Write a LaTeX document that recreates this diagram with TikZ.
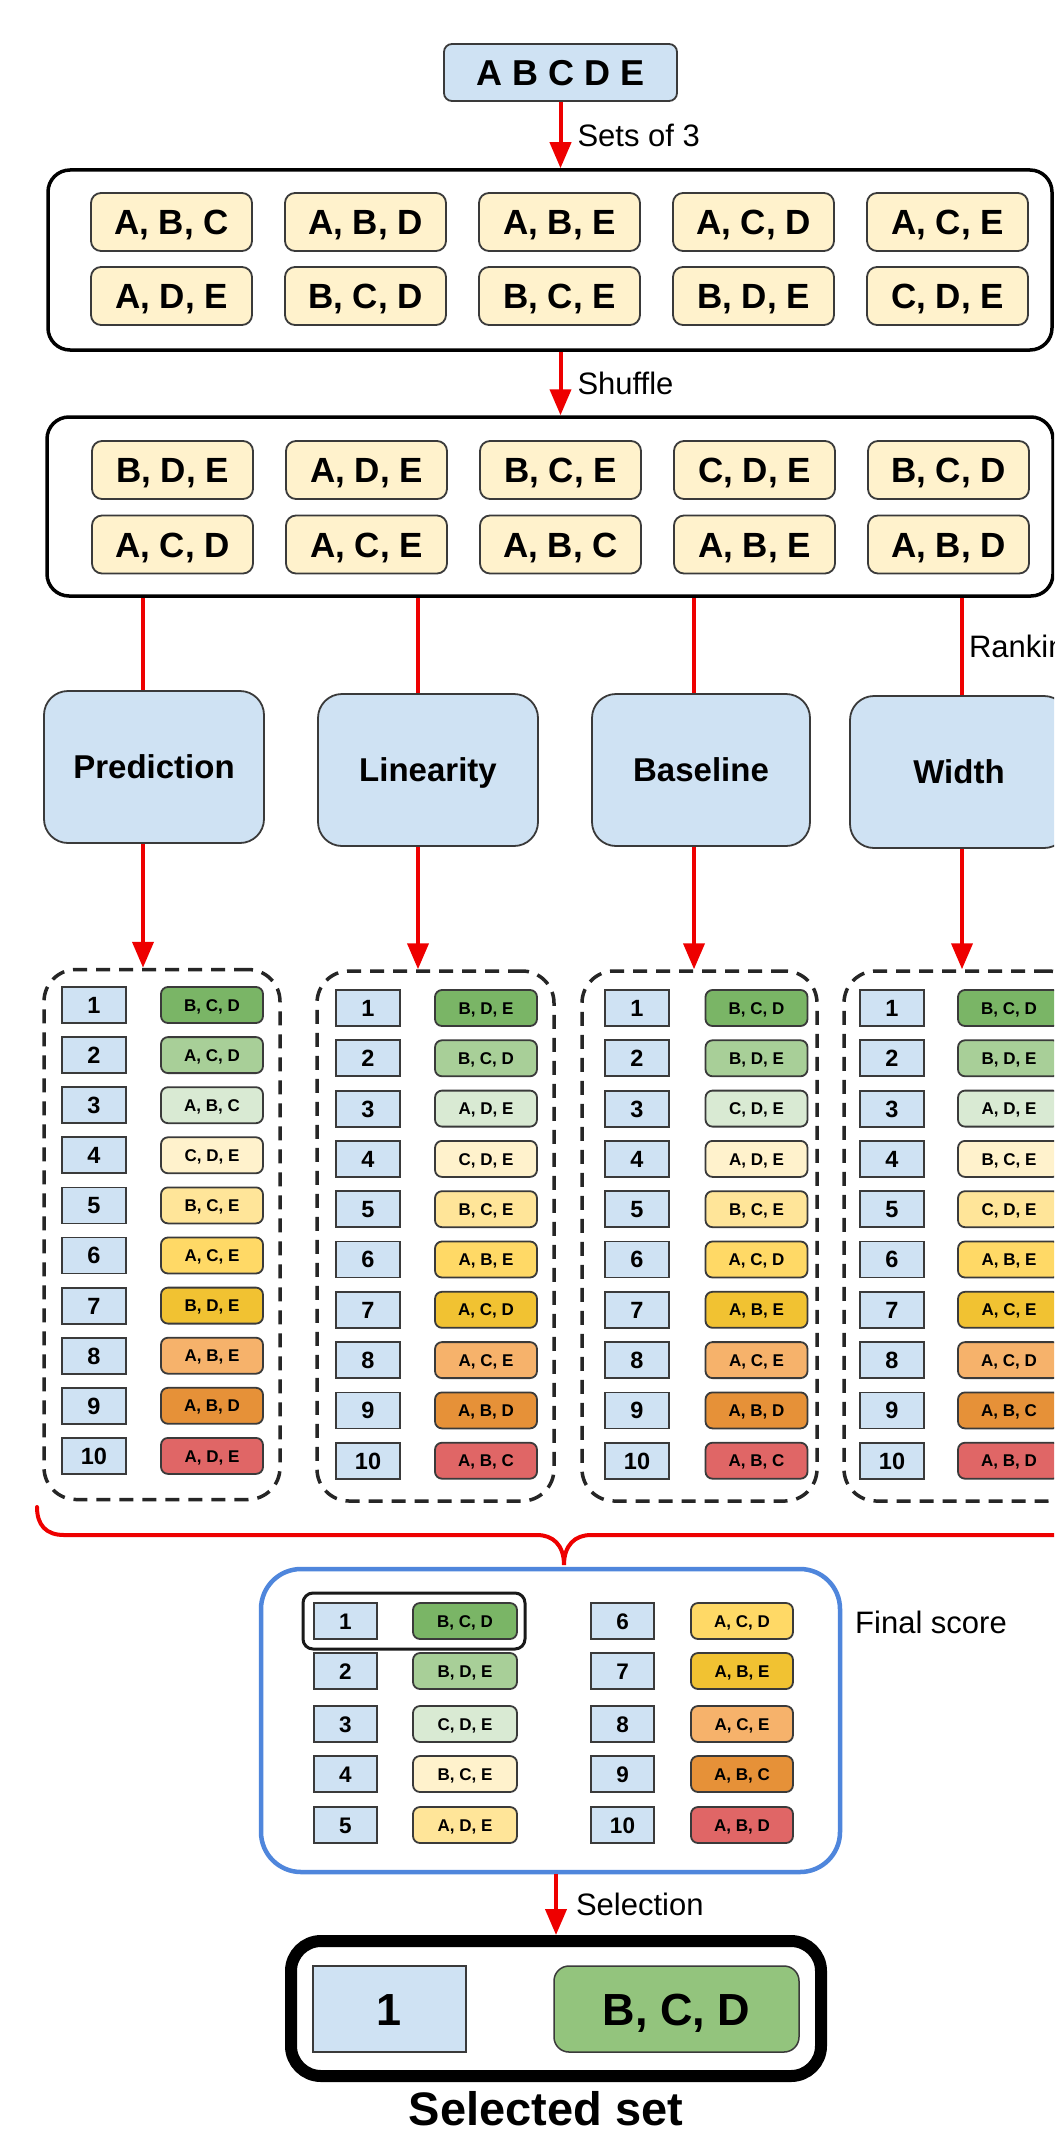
\documentclass[tikz,border=0pt]{standalone}
\usepackage{fontspec}
\setmainfont{Liberation Sans}
\usetikzlibrary{arrows.meta}
\definecolor{lblue}{HTML}{CFE2F3}
\definecolor{lyel}{HTML}{FFF2CC}
\definecolor{redc}{HTML}{EE0000}
\definecolor{bluec}{HTML}{4F86DC}
\definecolor{bord}{HTML}{3A3A3A}
\definecolor{rank1}{HTML}{7AB566}
\definecolor{rank2}{HTML}{A8CF98}
\definecolor{rank3}{HTML}{D9EAD3}
\definecolor{rank4}{HTML}{FFF2CC}
\definecolor{rank5}{HTML}{FFE599}
\definecolor{rank6}{HTML}{FFD966}
\definecolor{rank7}{HTML}{F1C232}
\definecolor{rank8}{HTML}{F6B26B}
\definecolor{rank9}{HTML}{E69138}
\definecolor{rank10}{HTML}{E06666}
\definecolor{selgreen}{HTML}{93C47D}
\newcommand{\myfs}[1]{\fontsize{#1}{#1}\selectfont}
\newcommand{\rankcolumn}[6]{%
  \foreach \s [count=\i] in {#6} {
    \node[numbox] (#1n\i) at (#2, {#4+(\i-1)*#5}) {\i};
    \node[rankset, fill=rank\i] (#1s\i) at (#3, {#4+(\i-1)*#5}) {\s};
  }%
}
\tikzset{
  redline/.style={draw=redc, line width=4pt},
  redarrow/.style={redline, -{Triangle[length=26pt,width=21pt]}},
  outerbox/.style={draw=black, line width=3.5pt, rounded corners=22pt, inner sep=0pt},
  topset/.style={draw=bord, line width=1.8pt, fill=lyel, rounded corners=10pt, minimum width=161pt, minimum height=58pt, inner sep=0pt, text height=25pt, text depth=0pt, font=\bfseries\myfs{35}},
  method/.style={draw=bord, line width=1.8pt, fill=lblue, rounded corners=24pt, minimum width=220pt, minimum height=152pt, inner sep=0pt, text height=23.6pt, text depth=0pt, font=\bfseries\myfs{33}},
  dashbox/.style={draw=black!85, line width=3.5pt, dash pattern=on 14pt off 9pt, rounded corners=32pt, minimum width=236pt, minimum height=530pt, inner sep=0pt},
  numbox/.style={draw=bord, line width=1.8pt, fill=lblue, minimum width=64pt, minimum height=36pt, inner sep=0pt, text height=16.8pt, text depth=0pt, font=\bfseries\myfs{23.5}},
  rankset/.style={draw=bord, line width=1.8pt, rounded corners=7pt, minimum width=102pt, minimum height=36pt, inner sep=0pt, text height=12.2pt, text depth=0pt, font=\bfseries\myfs{17}},
  lbl/.style={font=\myfs{31}, inner sep=0pt, anchor=west, text height=22.2pt, text depth=0pt},
}
\begin{document}
\begin{tikzpicture}[x=1pt,y=-1pt]
\useasboundingbox (0,0) rectangle (1054,2132);
\clip (0,0) rectangle (1054,2132);
\fill[white] (0,0) rectangle (1054,2132);

% top
\node[draw=bord, line width=1.8pt, fill=lblue, rounded corners=8pt, minimum width=233pt, minimum height=57pt, inner sep=0pt, text height=25.8pt, text depth=0pt, font=\bfseries\myfs{36}] (abcde) at (560.5,72.5) {A B C D E};

\node[outerbox, minimum width=1004pt, minimum height=180pt] (outer1) at (550,260) {};
\foreach \t [count=\k] in {{A, B, C},{A, B, D},{A, B, E},{A, C, D},{A, C, E}} {
  \pgfmathsetmacro{\xx}{171.5+(\k-1)*194}
  \node[topset] (ta\k) at (\xx,222) {\t};
}
\foreach \t [count=\k] in {{A, D, E},{B, C, D},{B, C, E},{B, D, E},{C, D, E}} {
  \pgfmathsetmacro{\xx}{171.5+(\k-1)*194}
  \node[topset] (tb\k) at (\xx,296) {\t};
}
\draw[redarrow] (abcde.south) -- node[lbl, xshift=15pt] {Sets of 3} (abcde.south |- outer1.north);

\node[outerbox, minimum width=1006pt, minimum height=179pt] (outer2) at (550,506.5) {};
\foreach \t [count=\k] in {{B, D, E},{A, D, E},{B, C, E},{C, D, E},{B, C, D}} {
  \pgfmathsetmacro{\xx}{172.5+(\k-1)*194}
  \node[topset] (sa\k) at (\xx,470) {\t};
}
\foreach \t [count=\k] in {{A, C, D},{A, C, E},{A, B, C},{A, B, E},{A, B, D}} {
  \pgfmathsetmacro{\xx}{172.5+(\k-1)*194}
  \node[topset] (sb\k) at (\xx,544.5) {\t};
}
\draw[redarrow] (outer1.south -| abcde.south) -- node[lbl, xshift=15pt] {Shuffle} (outer2.north -| abcde.south);

% methods
\node[method] (pred) at (154,767) {Prediction};
\node[method] (lin) at (428,770) {Linearity};
\node[method, minimum width=218pt] (base) at (701,770) {Baseline};
\node[method, minimum width=218pt] (wid) at (959,772) {Width};

\coordinate (xP) at (143,0);
\coordinate (xL) at (418,0);
\coordinate (xB) at (694,0);
\coordinate (xW) at (962,0);

\draw[redline] (outer2.south -| xP) -- (pred.north -| xP);
\draw[redline] (outer2.south -| xL) -- (lin.north -| xL);
\draw[redline] (outer2.south -| xB) -- (base.north -| xB);
\draw[redline] (outer2.south -| xW) -- node[lbl, xshift=5pt] {Ranking} (wid.north -| xW);

% dashed ranking boxes
\node[dashbox] (pdash) at (162,1234.5) {};
\node[dashbox, minimum width=237pt] (ldash) at (435.5,1236) {};
\node[dashbox, minimum width=235pt] (bdash) at (699.5,1236) {};
\node[dashbox] (wdash) at (962,1236) {};

\draw[redarrow] (pred.south -| xP) -- (pdash.north -| xP);
\draw[redarrow] (lin.south -| xL) -- (ldash.north -| xL);
\draw[redarrow] (base.south -| xB) -- (bdash.north -| xB);
\draw[redarrow] (wid.south -| xW) -- (wdash.north -| xW);

\rankcolumn{P}{94}{212}{1005}{50.1}{{B, C, D},{A, C, D},{A, B, C},{C, D, E},{B, C, E},{A, C, E},{B, D, E},{A, B, E},{A, B, D},{A, D, E}}
\rankcolumn{L}{368}{486}{1008}{50.3}{{B, D, E},{B, C, D},{A, D, E},{C, D, E},{B, C, E},{A, B, E},{A, C, D},{A, C, E},{A, B, D},{A, B, C}}
\rankcolumn{B}{637}{756.5}{1008}{50.3}{{B, C, D},{B, D, E},{C, D, E},{A, D, E},{B, C, E},{A, C, D},{A, B, E},{A, C, E},{A, B, D},{A, B, C}}
\rankcolumn{W}{892}{1009}{1008}{50.3}{{B, C, D},{B, D, E},{A, D, E},{B, C, E},{C, D, E},{A, B, E},{A, C, E},{A, C, D},{A, B, C},{A, B, D}}

% brace
\coordinate (brL) at (37,1507);
\coordinate (brT) at (564,1565);
\coordinate (brR) at (1091,1507);
\draw[redline, line cap=round] (brL) .. controls (37,1525) and (46,1535) .. (64,1535)
  -- (537,1535) .. controls (553,1535) and (564,1545) .. (brT)
  .. controls (564,1545) and (575,1535) .. (591,1535)
  -- (1064,1535) .. controls (1082,1535) and (1091,1525) .. (brR);

% final score
\node[draw=bluec, line width=4.5pt, rounded corners=40pt, minimum width=579pt, minimum height=303pt, inner sep=0pt] (final) at (550.5,1720.5) {};
\foreach \t [count=\k] in {{B, C, D},{B, D, E},{C, D, E},{B, C, E},{A, D, E}} {
  \pgfmathsetmacro{\yy}{{1621,1671,1724,1774,1825}[\k-1]}
  \node[numbox, minimum width=63pt, text height=16pt, font=\bfseries\myfs{22.5}] (fn\k) at (345.5,\yy) {\k};
  \node[rankset, fill=rank\k, minimum width=104pt] (fs\k) at (465,\yy) {\t};
}
\foreach \t [count=\k] in {{A, C, D},{A, B, E},{A, C, E},{A, B, C},{A, B, D}} {
  \pgfmathtruncatemacro{\r}{\k+5}
  \pgfmathsetmacro{\yy}{{1621,1671,1724,1774,1825}[\k-1]}
  \node[numbox, minimum width=63pt, text height=16pt, font=\bfseries\myfs{22.5}] (fn\r) at (622.5,\yy) {\r};
  \node[rankset, fill=rank\r, minimum width=102pt] (fs\r) at (742,\yy) {\t};
}
\node[draw=black!90, line width=3pt, rounded corners=10pt, minimum width=222pt, minimum height=56pt, inner sep=0pt] (hl) at (414,1621) {};
\node[lbl] (fslabel) at (855,1622) {Final score};

% selected
\node[draw=black, line width=12pt, rounded corners=30pt, minimum width=530pt, minimum height=135pt, inner sep=0pt] (selbox) at (556,2008.5) {};
\node[draw=bord, line width=1.5pt, fill=lblue, minimum width=153pt, minimum height=86pt, inner sep=0pt, text height=32.2pt, text depth=0pt, font=\bfseries\myfs{45}] (selnum) at (389.5,2009) {1};
\node[draw=bord, line width=1.5pt, fill=selgreen, rounded corners=15pt, minimum width=245pt, minimum height=86pt, inner sep=0pt, text height=32.2pt, text depth=0pt, font=\bfseries\myfs{45}] (selset) at (676.5,2009) {B, C, D};
\draw[redarrow] (final.south -| selbox.north) -- node[lbl, xshift=18pt] {Selection} (selbox.north);
\node[font=\bfseries\myfs{47}, inner sep=0pt, anchor=base] (seltitle) at (546,2125) {Selected set};
\end{tikzpicture}
\end{document}
